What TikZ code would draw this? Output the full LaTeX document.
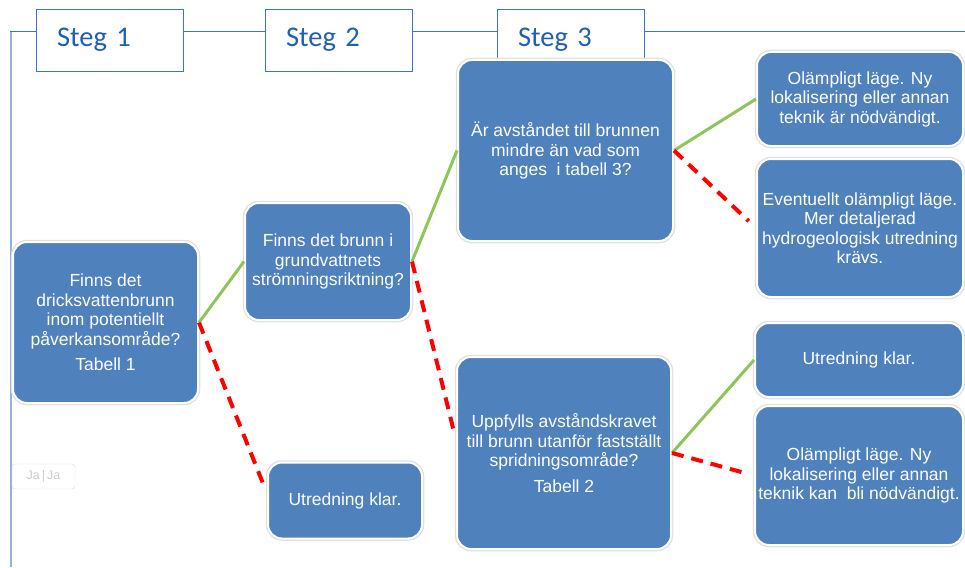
\documentclass[tikz,border=0pt]{standalone}
\usepackage{fontspec}
\setmainfont{Liberation Sans}
\newfontfamily\stegfont{Carlito}
\usepackage{xcolor}

\definecolor{boxblue}{HTML}{4F81BD}
\definecolor{stegblue}{HTML}{1F5FB5}
\definecolor{framebl}{HTML}{3F74C0}
\definecolor{jagreen}{HTML}{8DC55A}
\definecolor{nejred}{HTML}{FF0000}

\tikzset{
  fraga/.style={rectangle,rounded corners=14pt,fill=boxblue,draw=white,line width=2pt,
    text=white,align=center,font=\fontsize{17.5}{19.5}\selectfont,inner sep=3pt,
    preaction={draw=gray!25,line width=4.5pt}},
  steg/.style={rectangle,draw=framebl,fill=white,line width=0.9pt,text=stegblue,
    font=\stegfont\fontsize{28.5}{30}\selectfont,minimum width=147pt,minimum height=62pt,
    text width=105pt,align=left,inner sep=0pt},
  ja/.style={draw=jagreen,line width=3pt},
  nej/.style={draw=nejred,line width=4pt,dash pattern=on 12pt off 8pt,shorten >=5pt},
}

\begin{document}
\begin{tikzpicture}[x=1pt,y=-1pt]
  \useasboundingbox (0,0) rectangle (965,567);

  % ram
  \draw[framebl!55,line width=2pt] (11,567) -- (11,31);
  \draw[framebl,line width=0.9pt] (10,31) -- (965,31);

  \node (s1) at (109.5,40) [steg] {Steg 1};
  \node (s2) at (338.5,40) [steg] {Steg 2};
  \node (s3) at (570.5,40) [steg] {Steg 3};

  \node (a) at (105.5,322.5) [fraga,minimum width=185pt,minimum height=161pt]
    {Finns det\\dricksvattenbrunn\\inom potentiellt\\påverkansområde?\\[6pt]Tabell 1};
  \node (b) at (328,261.5) [fraga,minimum width=166pt,minimum height=117pt]
    {Finns det brunn i\\grundvattnets\\strömningsriktning?};
  \node (c) at (345,500.5) [fraga,minimum width=154pt,minimum height=76pt]
    {Utredning klar.};
  \node (d) at (565.5,150.5) [fraga,minimum width=215pt,minimum height=181pt]
    {Är avståndet till brunnen\\mindre än vad som\\anges~ i tabell 3?};
  \node (e) at (564,453) [fraga,minimum width=214pt,minimum height=192pt]
    {Uppfylls avståndskravet\\till brunn utanför fastställt\\spridningsområde?\\[6pt]Tabell 2};
  \node (f) at (860,99) [fraga,minimum width=206pt,minimum height=94pt]
    {Olämpligt läge. Ny\\lokalisering eller annan\\teknik är nödvändigt.};
  \node (g) at (860,228) [fraga,minimum width=206pt,minimum height=138pt]
    {Eventuellt olämpligt läge.\\Mer detaljerad\\hydrogeologisk utredning\\krävs.};
  \node (h) at (859,360) [fraga,minimum width=208pt,minimum height=74pt]
    {Utredning klar.};
  \node (i) at (859,475.5) [fraga,minimum width=208pt,minimum height=139pt]
    {Olämpligt läge. Ny\\lokalisering eller annan\\teknik kan~ bli nödvändigt.};

  \node (jaja) at (43.5,476.5) [draw=gray!30,rounded corners=3pt,minimum width=63pt,
    minimum height=25pt,text=gray!40,font=\fontsize{12.5}{12.5}\selectfont] {Ja\,|\,Ja};

  \draw[ja] (a.east) -- (b.west);
  \draw[nej] (a.east) -- ([yshift=7pt]c.west);
  \draw[ja] (b.east) -- (d.west);
  \draw[nej] (b.east) -- ([yshift=13pt]e.west);
  \draw[ja] (d.east) -- (f.west);
  \draw[nej,shorten >=10pt] (d.east) -- (g.west);
  \draw[ja] (e.east) -- (h.west);
  \draw[nej,shorten >=12pt] (e.east) -- (i.west);
\end{tikzpicture}
\end{document}
